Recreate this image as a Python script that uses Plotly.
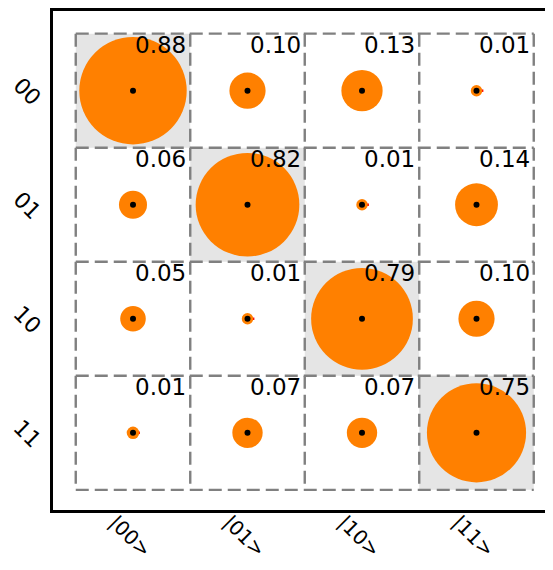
import numpy as np
import plotly.graph_objects as go

row_labels = ["00", "01", "10", "11"]
col_labels = ["|00>", "|01>", "|10>", "|11>"]
values = [
    [0.88, 0.10, 0.13, 0.01],
    [0.06, 0.82, 0.01, 0.14],
    [0.05, 0.01, 0.79, 0.10],
    [0.012, 0.07, 0.07, 0.75],
]
phases = [
    [0.0, 0.0, 0.0, 0.0],
    [0.0, 0.0, 0.0, 0.0],
    [0.0, 0.0, 0.0, 0.0],
    [0.0, 0.0, 0.0, 0.0],
]

n = len(row_labels)
OFF = 8  # default page body margin
W, H = 553 - OFF, 570 - 2 * OFF
ml = 53 - OFF
mt = 9 - OFF
mr = 0
plot_bottom = 510 - OFF
mb = H - plot_bottom
plot_w = W - ml - mr
plot_h = plot_bottom - mt
cell_px = 114.5
cx0 = 133 - OFF
cy0 = 89 - OFF
x0 = -(cx0 - ml) / cell_px
x1 = x0 + plot_w / cell_px
y0 = -(cy0 - mt) / cell_px
y1 = y0 + plot_h / cell_px

fig = go.Figure()

shapes = []
for i in range(n):
    shapes.append(dict(
        type="rect", xref="x", yref="y",
        x0=i - 0.5, x1=i + 0.5, y0=i - 0.5, y1=i + 0.5,
        fillcolor="#e5e5e5", line=dict(width=0), layer="below",
    ))
grid_line = dict(color="#808080", width=2.4, dash="13px,6px")
for k in range(n + 1):
    shapes.append(dict(type="line", xref="x", yref="y",
                       x0=-0.5, x1=n - 0.5, y0=k - 0.5, y1=k - 0.5,
                       line=grid_line, layer="below"))
    shapes.append(dict(type="line", xref="x", yref="y",
                       x0=k - 0.5, x1=k - 0.5, y0=-0.5, y1=n - 0.5,
                       line=grid_line, layer="below"))

# phase lines
L = 0.06
lx, ly = [], []
for i in range(n):
    for j in range(n):
        lx += [j, j + L * np.cos(phases[i][j]), None]
        ly += [i, i - L * np.sin(phases[i][j]), None]
fig.add_trace(go.Scatter(x=lx, y=ly, mode="lines",
                         line=dict(color="red", width=2.5),
                         hoverinfo="skip", showlegend=False))

xs, ys, sizes = [], [], []
for i in range(n):
    for j in range(n):
        xs.append(j)
        ys.append(i)
        sizes.append(cell_px * np.sqrt(values[i][j]))
fig.add_trace(go.Scatter(x=xs, y=ys, mode="markers",
                         marker=dict(size=sizes, color="#ff8000", opacity=1,
                                     line=dict(width=0)),
                         opacity=1, showlegend=False))
fig.add_trace(go.Scatter(x=xs, y=ys, mode="markers",
                         marker=dict(size=6, color="black", opacity=1, line=dict(width=0)),
                         showlegend=False))

ann = []
font = dict(family="DejaVu Sans", size=23, color="black")
for i in range(n):
    for j in range(n):
        ann.append(dict(x=j + 0.5, y=i - 0.5, xref="x", yref="y",
                        text=f"{values[i][j]:.2f}", showarrow=False,
                        xanchor="right", yanchor="top", xshift=-2, yshift=4,
                        font=font))
lab_font = dict(family="DejaVu Sans", size=22, color="black")
for i, lab in enumerate(row_labels):
    ann.append(dict(x=0, y=i, xref="paper", yref="y", text=lab, showarrow=False,
                    xanchor="center", yanchor="middle", xshift=-26, yshift=-1,
                    textangle=45, font=lab_font))
xlab_font = dict(family="DejaVu Sans", size=20, color="black")
for j, lab in enumerate(col_labels):
    ann.append(dict(x=j, y=0, xref="x", yref="paper",
                    text=lab.replace("<", "&lt;").replace(">", "&gt;"),
                    showarrow=False, xanchor="center", yanchor="middle",
                    borderpad=0, yshift=-26, xshift=-3, textangle=45,
                    font=xlab_font))

fig.update_layout(
    width=W, height=H,
    margin=dict(l=ml, r=mr, t=mt, b=mb),
    paper_bgcolor="white", plot_bgcolor="white",
    shapes=shapes, annotations=ann,
    xaxis=dict(range=[x0, x1], showgrid=False, zeroline=False, showticklabels=False,
               ticks="", showline=True, linecolor="black", linewidth=2.5, mirror=True),
    yaxis=dict(range=[y1, y0], showgrid=False, zeroline=False, showticklabels=False,
               ticks="", showline=True, linecolor="black", linewidth=2.5, mirror=False),
)

fig.write_html("out.html")
